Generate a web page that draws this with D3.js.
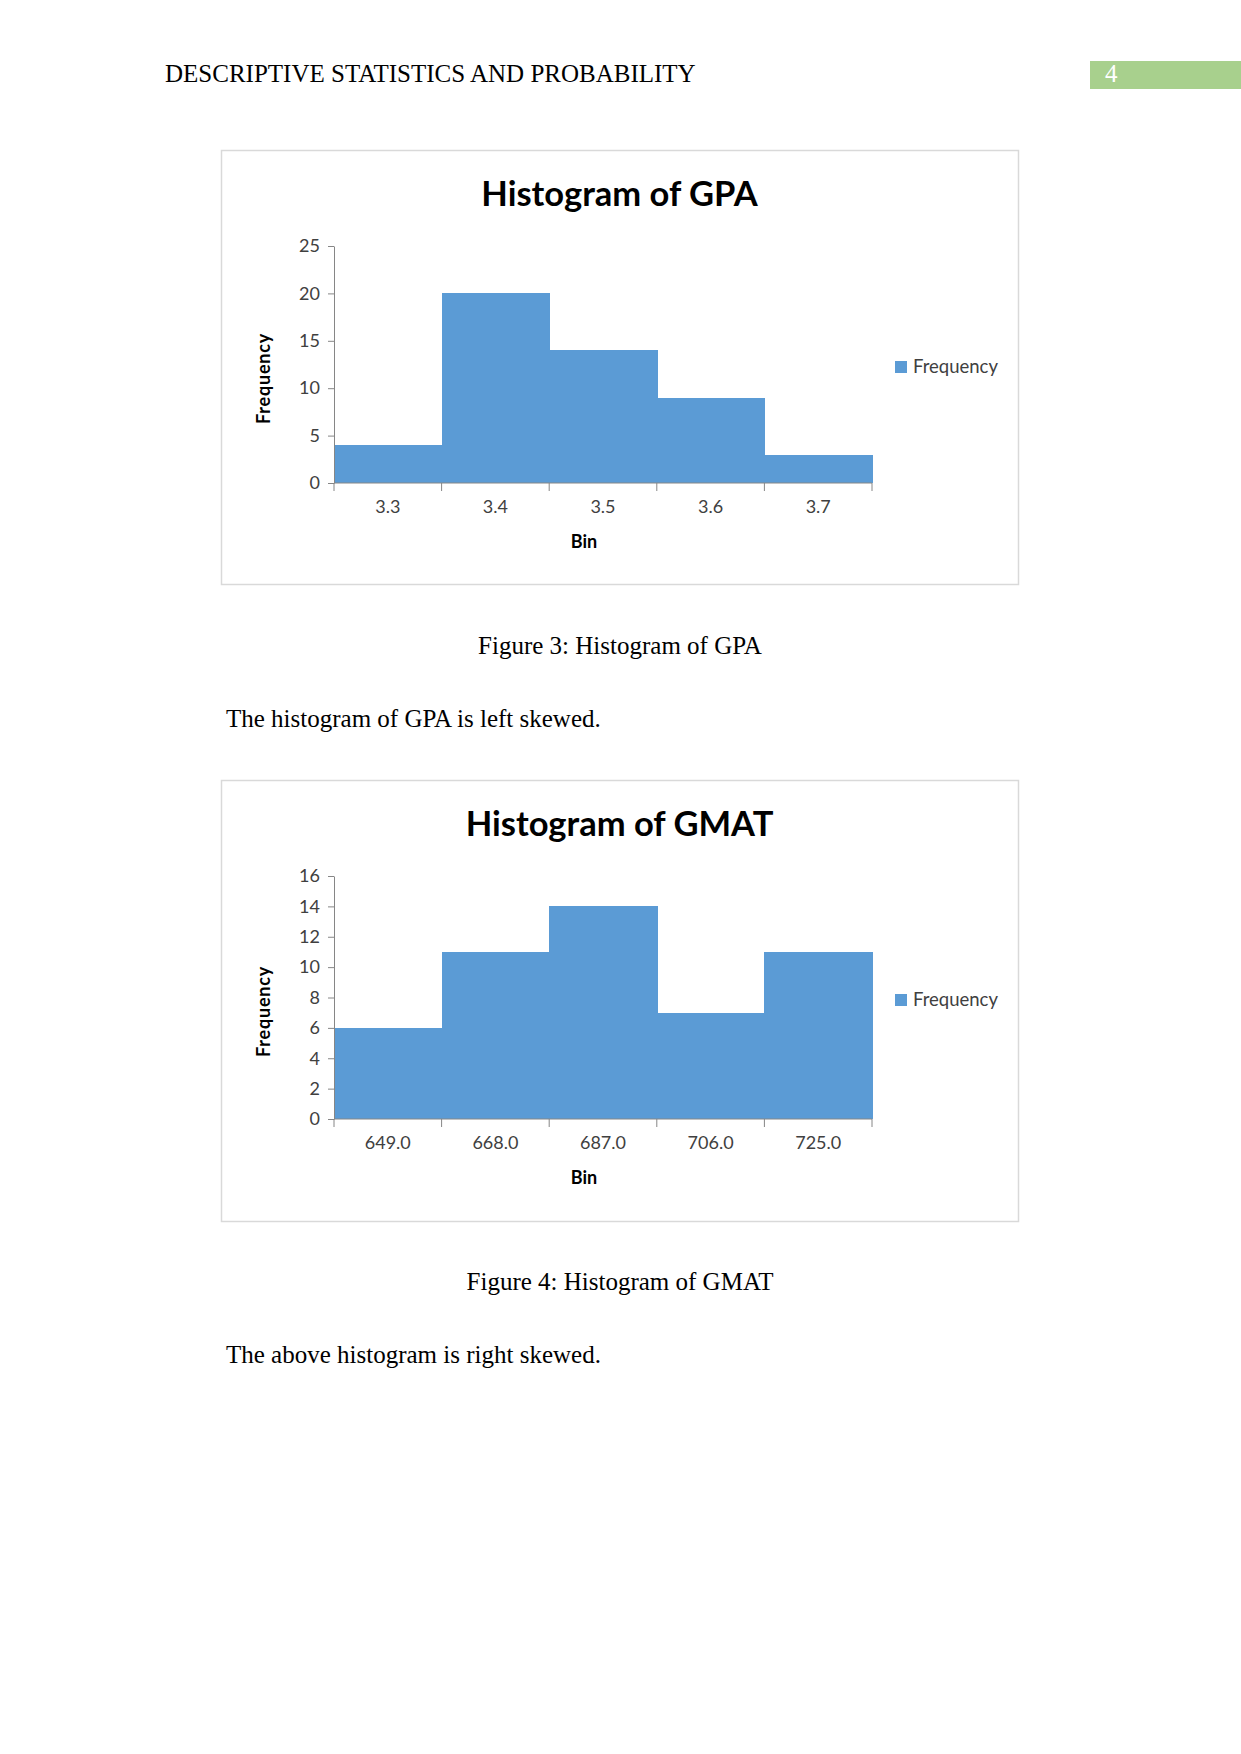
<!DOCTYPE html>
<html>
<head>
<meta charset="utf-8">
<script src="https://cdn.jsdelivr.net/npm/d3@7"></script>
<style>
  body { margin: 0; background: #fff; }
  svg { display: block; }
</style>
</head>
<body>
<svg id="page" width="1241" height="1754"></svg>
<script>
// chart values read from the page
const gpaBins = ["3.3", "3.4", "3.5", "3.6", "3.7"];
const gpaFreq = [4, 20, 14, 9, 3];
const gpaTicks = [0, 5, 10, 15, 20, 25];

const gmatBins = ["649.0", "668.0", "687.0", "706.0", "725.0"];
const gmatFreq = [6, 11, 14, 7, 11];
const gmatTicks = [0, 2, 4, 6, 8, 10, 12, 14, 16];

const svg = d3.select("svg#page");
const serif = "'Liberation Serif', 'Times New Roman', serif";
const sans = "Lato, Carlito, Calibri, sans-serif";
const barColor = "#5b9bd5";
const axisColor = "#868686";

svg.append("rect").attr("width", 1241).attr("height", 1754).attr("fill", "#fff");

// running header
svg.append("text")
  .attr("x", 165).attr("y", 82)
  .attr("font-family", serif).attr("font-size", 25)
  .text("DESCRIPTIVE STATISTICS AND PROBABILITY");
svg.append("rect")
  .attr("x", 1090).attr("y", 61).attr("width", 151).attr("height", 28)
  .attr("fill", "#a8d08d");
svg.append("text")
  .attr("x", 1105).attr("y", 82)
  .attr("font-family", serif).attr("font-size", 25)
  .attr("fill", "#fff")
  .text("4");

function drawHistogram(cfg) {
  const g = svg.append("g");

  // chart frame
  g.append("rect")
    .attr("x", cfg.frame[0] + 0.5).attr("y", cfg.frame[1] + 0.5)
    .attr("width", cfg.frame[2]).attr("height", cfg.frame[3])
    .attr("fill", "#fff").attr("stroke", "#d9d9d9").attr("stroke-width", 1.5);

  g.append("text")
    .attr("x", cfg.frame[0] + cfg.frame[2] / 2).attr("y", cfg.titleY)
    .attr("text-anchor", "middle")
    .attr("font-family", sans).attr("font-weight", "bold").attr("font-size", 34.5)
    .text(cfg.title);

  const x = d3.scaleBand().domain(cfg.bins).range([cfg.left, cfg.right]).padding(0);
  const y = d3.scaleLinear().domain([0, d3.max(cfg.ticks)]).range([cfg.bottom, cfg.top]);

  // bars
  g.append("g")
    .attr("shape-rendering", "crispEdges")
  .selectAll("rect")
    .data(cfg.bins)
    .join("rect")
      .attr("x", d => x(d))
      .attr("y", (d, i) => y(cfg.freq[i]))
      .attr("width", x.bandwidth() + 1)
      .attr("height", (d, i) => y(0) - y(cfg.freq[i]))
      .attr("fill", barColor);

  // y axis
  const yAxis = g.append("g")
    .attr("transform", `translate(${cfg.left},0)`)
    .call(d3.axisLeft(y).tickValues(cfg.ticks).tickSize(6).tickPadding(8).tickSizeOuter(0));
  yAxis.select(".domain").attr("stroke", axisColor);
  yAxis.selectAll(".tick line").attr("stroke", axisColor);
  yAxis.selectAll(".tick text")
    .attr("font-family", sans).attr("font-size", 18).attr("fill", "#404040");

  // x axis: ticks on bin edges, labels in the middle
  const xAxis = g.append("g").attr("transform", `translate(0,${cfg.bottom})`);
  xAxis.append("line")
    .attr("x1", cfg.left).attr("x2", cfg.right)
    .attr("stroke", axisColor);
  const edges = cfg.bins.map(d => x(d)).concat([cfg.right]);
  xAxis.selectAll("line.edge")
    .data(edges)
    .join("line")
      .attr("class", "edge")
      .attr("x1", d => d).attr("x2", d => d)
      .attr("y1", 0).attr("y2", 8)
      .attr("stroke", axisColor);
  xAxis.selectAll("text")
    .data(cfg.bins)
    .join("text")
      .attr("x", d => x(d) + x.bandwidth() / 2)
      .attr("y", 30)
      .attr("text-anchor", "middle")
      .attr("font-family", sans).attr("font-size", 18).attr("fill", "#404040")
      .text(d => d);

  // axis titles
  g.append("text")
    .attr("x", cfg.binX).attr("y", cfg.bottom + 65)
    .attr("text-anchor", "middle")
    .attr("font-family", sans).attr("font-weight", "bold").attr("font-size", 18)
    .text("Bin");
  g.append("text")
    .attr("transform", `translate(${cfg.freqX},${(cfg.top + cfg.bottom) / 2 + 14}) rotate(-90)`)
    .attr("text-anchor", "middle")
    .attr("font-family", sans).attr("font-weight", "bold").attr("font-size", 18)
    .attr("letter-spacing", 0.8)
    .text("Frequency");

  // legend
  g.append("rect")
    .attr("x", 895).attr("y", cfg.legendY - 12).attr("width", 12).attr("height", 12)
    .attr("fill", barColor);
  g.append("text")
    .attr("x", 913).attr("y", cfg.legendY)
    .attr("font-family", sans).attr("font-size", 18.5).attr("fill", "#404040")
    .text("Frequency");
}

drawHistogram({
  title: "Histogram of GPA", bins: gpaBins, freq: gpaFreq, ticks: gpaTicks,
  frame: [221, 150, 797, 434], titleY: 206,
  left: 334, right: 872, top: 246, bottom: 483,
  binX: 584, freqX: 270, legendY: 373
});

drawHistogram({
  title: "Histogram of GMAT", bins: gmatBins, freq: gmatFreq, ticks: gmatTicks,
  frame: [221, 780, 797, 441], titleY: 836,
  left: 334, right: 872, top: 876, bottom: 1119,
  binX: 584, freqX: 270, legendY: 1006
});

// captions and body text
const para = [
  { text: "Figure 3: Histogram of GPA", x: 620, y: 654, anchor: "middle" },
  { text: "The histogram of GPA is left skewed.", x: 226, y: 727, anchor: "start" },
  { text: "Figure 4: Histogram of GMAT", x: 620, y: 1290, anchor: "middle" },
  { text: "The above histogram is right skewed.", x: 226, y: 1363, anchor: "start" }
];
svg.selectAll("text.para")
  .data(para)
  .join("text")
    .attr("class", "para")
    .attr("x", d => d.x).attr("y", d => d.y)
    .attr("text-anchor", d => d.anchor)
    .attr("font-family", serif).attr("font-size", 25)
    .text(d => d.text);
</script>
</body>
</html>
